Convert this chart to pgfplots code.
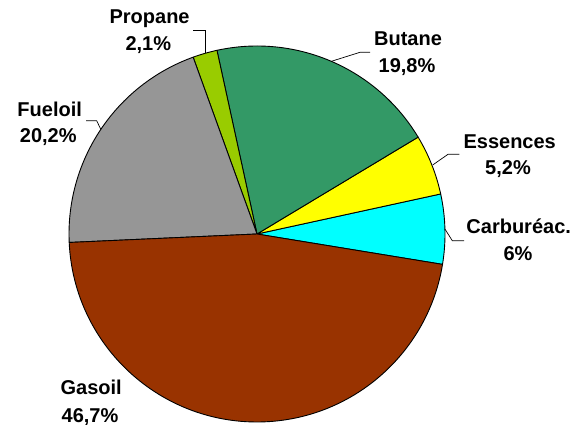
\documentclass[border=0pt]{standalone}
\usepackage{pgfplots}
\pgfplotsset{compat=1.18}
\usepackage{fontspec}
\setmainfont{Liberation Sans}
\definecolor{cCarb}{RGB}{0,255,255}
\definecolor{cEss}{RGB}{255,255,0}
\definecolor{cBut}{RGB}{51,153,102}
\definecolor{cProp}{RGB}{153,204,0}
\definecolor{cFuel}{RGB}{150,150,150}
\definecolor{cGas}{RGB}{153,51,0}
% slice: #1 cumulative share before slice (%), #2 share (%), #3 colour
\newcommand\slice[3]{%
  \filldraw[fill=#3, draw=black, line width=0.9bp, line join=round]
    (axis cs:257,191) -- ++({-9.3+3.6*#1}:188bp)
    arc[start angle={-9.3+3.6*#1}, end angle={-9.3+3.6*(#1+#2)}, radius=188bp] -- cycle;}
\begin{document}
\begin{tikzpicture}[font=\fontsize{20bp}{24bp}\selectfont\bfseries]
\useasboundingbox (0,0) rectangle (574bp,425bp);
\begin{axis}[scale only axis, width=574bp, height=425bp,
  xmin=0, xmax=574, ymin=0, ymax=425, hide axis, clip=false]
% shares in %: Carbureac 6, Essences 5.2, Butane 19.8, Propane 2.1, Fueloil 20.2, Gasoil 46.7
\slice{0}{6}{cCarb}
\slice{6}{5.2}{cEss}
\slice{11.2}{19.8}{cBut}
\slice{31}{2.1}{cProp}
\slice{33.1}{20.2}{cFuel}
\slice{53.3}{46.7}{cGas}
% leader lines
\draw[black, line width=0.7bp] (axis cs:193,394.3) -- (axis cs:205.7,394.3) -- (axis cs:205.7,372);
\draw[black, line width=0.7bp] (axis cs:370,372.7) -- (axis cs:360,372.7) -- (axis cs:331.4,363.7);
\draw[black, line width=0.7bp] (axis cs:459.3,270.7) -- (axis cs:448,270.7) -- (axis cs:432.7,260);
\draw[black, line width=0.7bp] (axis cs:464,184.3) -- (axis cs:452.3,184.3) -- (axis cs:444.9,196);
\draw[black, line width=0.7bp] (axis cs:86,304.3) -- (axis cs:96.7,304.3) -- (axis cs:100.8,295.6);
% labels
\node[anchor=base, inner sep=0pt] at (axis cs:149.6,401) {Propane};
\node[anchor=base, inner sep=0pt] at (axis cs:148.3,374) {2,1\%};
\node[anchor=base, inner sep=0pt] at (axis cs:408,379) {Butane};
\node[anchor=base, inner sep=0pt] at (axis cs:407,352.3) {19,8\%};
\node[anchor=base, inner sep=0pt] at (axis cs:509.7,276.7) {Essences};
\node[anchor=base, inner sep=0pt] at (axis cs:508,250) {5,2\%};
\node[anchor=base, inner sep=0pt] at (axis cs:518.7,191.7) {Carburéac.};
\node[anchor=base, inner sep=0pt] at (axis cs:518,164) {6\%};
\node[anchor=base, inner sep=0pt] at (axis cs:49.7,308.3) {Fueloil};
\node[anchor=base, inner sep=0pt] at (axis cs:48.3,282.3) {20,2\%};
\node[anchor=base, inner sep=0pt] at (axis cs:91.2,30.5) {Gasoil};
\node[anchor=base, inner sep=0pt] at (axis cs:90,3) {46,7\%};
\end{axis}
\end{tikzpicture}
\end{document}
